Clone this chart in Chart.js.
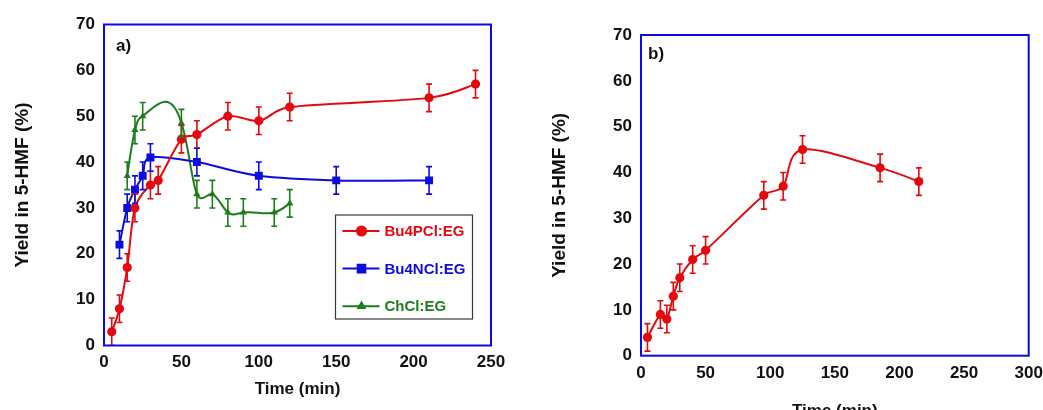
<!DOCTYPE html>
<html>
<head>
<meta charset="utf-8">
<script src="https://cdn.jsdelivr.net/npm/chart.js@4.4.0/dist/chart.umd.min.js"></script>
<style>
  html, body { margin: 0; padding: 0; background: #fff; overflow: hidden; }
  #wrap { position: relative; width: 1043px; height: 410px; overflow: hidden; }
  #c1 { position: absolute; left: 0; top: 0; }
  #c2 { position: absolute; left: 520px; top: 0; }
</style>
</head>
<body>
<div id="wrap">
  <canvas id="c1" width="520" height="410"></canvas>
  <canvas id="c2" width="545" height="430"></canvas>
</div>
<script>
// ---- Panel a): yield vs time for three DES systems ----
const timeBu4PCl  = [5, 10, 15, 20, 30, 35, 50, 60, 80, 100, 120, 210, 240];
const yieldBu4PCl = [3, 8, 17, 30, 35, 36, 45, 46, 50, 49, 52, 54, 57];
const errBu4PCl   = [3, 3, 3, 3, 3, 3, 3, 3, 3, 3, 3, 3, 3];

const timeBu4NCl  = [10, 15, 20, 25, 30, 60, 100, 150, 210];
const yieldBu4NCl = [22, 30, 34, 37, 41, 40, 37, 36, 36];
const errBu4NCl   = [3, 3, 3, 3, 3, 3, 3, 3, 3];

const timeChCl  = [15, 20, 25, 50, 60, 70, 80, 90, 110, 120];
const yieldChCl = [37, 47, 50, 48.5, 33, 33, 29, 29, 29, 31];
const errChCl   = [3, 3, 3, 3, 3, 3, 3, 3, 3, 3];

// ---- Panel b): single system ----
const timeB  = [5, 15, 20, 25, 30, 40, 50, 95, 110, 125, 185, 215];
const yieldB = [4, 9, 8, 13, 17, 21, 23, 35, 37, 45, 41, 38];
const errB   = [3, 3, 3, 3, 3, 3, 3, 3, 3, 3, 3, 3];

// ---- Axis ticks ----
const xTicksA = [0, 50, 100, 150, 200, 250];
const xTicksB = [0, 50, 100, 150, 200, 250, 300];
const yTicks  = [0, 10, 20, 30, 40, 50, 60, 70];

const seriesNames = ['Bu4PCl:EG', 'Bu4NCl:EG', 'ChCl:EG'];

const RED = '#e4080f';
const BLUE = '#0c0cdc';
const GREEN = '#1c7d1c';
const FRAME = '#0a0ae8';
const FONT = "'Liberation Sans', Arial, sans-serif";

const pts = (xs, ys) => xs.map((x, i) => ({ x: x, y: ys[i] }));

// Natural cubic spline slopes (dy/dx) through the given nodes
function splineSlopes(xs, ys) {
  const n = xs.length;
  const h = [], c = new Array(n).fill(0), mu = new Array(n).fill(0), z = new Array(n).fill(0);
  for (let i = 0; i < n - 1; i++) h[i] = xs[i + 1] - xs[i];
  for (let i = 1; i < n - 1; i++) {
    const alpha = 3 / h[i] * (ys[i + 1] - ys[i]) - 3 / h[i - 1] * (ys[i] - ys[i - 1]);
    const l = 2 * (xs[i + 1] - xs[i - 1]) - h[i - 1] * mu[i - 1];
    mu[i] = h[i] / l;
    z[i] = (alpha - h[i - 1] * z[i - 1]) / l;
  }
  const b = new Array(n).fill(0);
  for (let j = n - 2; j >= 0; j--) {
    c[j] = z[j] - mu[j] * c[j + 1];
    b[j] = (ys[j + 1] - ys[j]) / h[j] - h[j] * (c[j + 1] + 2 * c[j]) / 3;
  }
  const k = n - 2;
  const d = (c[k + 1] - c[k]) / (3 * h[k]);
  b[n - 1] = b[k] + 2 * c[k] * h[k] + 3 * d * h[k] * h[k];
  return b;
}

// Spreadsheet-style smoothing: Bezier handles from neighbouring points (1/6 rule, limited on short segments)
function spreadsheetHandles(P) {
  const n = P.length, out = P.map(() => ({}));
  const dist = (a, b) => Math.hypot(a.x - b.x, a.y - b.y);
  for (let i = 0; i < n - 1; i++) {
    const p0 = P[i - 1] || P[i], p1 = P[i], p2 = P[i + 1], p3 = P[i + 2] || P[i + 1];
    const d02 = dist(p0, p2), d12 = dist(p1, p2), d13 = dist(p1, p3);
    let f = 1 / 6, g = 1 / 6;
    if (d02 / 6 >= d12 / 2 && d02 > 0) f = d12 / d02 / 2;
    if (d13 / 6 >= d12 / 2 && d13 > 0) g = d12 / d13 / 2;
    out[i].cp2x = p1.x + f * (p2.x - p0.x); out[i].cp2y = p1.y + f * (p2.y - p0.y);
    out[i + 1].cp1x = p2.x - g * (p3.x - p1.x); out[i + 1].cp1y = p2.y - g * (p3.y - p1.y);
  }
  return out;
}

// Set the Bezier control points used by each smoothed line
const smoothPlugin = {
  id: 'smoothCurve',
  beforeDatasetDraw(chart, args) {
    const meta = args.meta;
    const els = meta.data;
    const ds = chart.data.datasets[args.index];
    if (!meta.dataset || els.length < 3) return;
    const P = els.map(p => ({ x: p.x, y: p.y }));
    const xs = P.map(p => p.x), ys = P.map(p => p.y);
    const s = splineSlopes(xs, ys);
    const e = spreadsheetHandles(P);
    const w = ds.splineWeight || 0;
    els.forEach((p, i) => {
      const hPrev = i > 0 ? xs[i] - xs[i - 1] : 0;
      const hNext = i < els.length - 1 ? xs[i + 1] - xs[i] : 0;
      const s1x = xs[i] - hPrev / 3, s1y = ys[i] - s[i] * hPrev / 3;
      const s2x = xs[i] + hNext / 3, s2y = ys[i] + s[i] * hNext / 3;
      const e1x = e[i].cp1x !== undefined ? e[i].cp1x : xs[i];
      const e1y = e[i].cp1y !== undefined ? e[i].cp1y : ys[i];
      const e2x = e[i].cp2x !== undefined ? e[i].cp2x : xs[i];
      const e2y = e[i].cp2y !== undefined ? e[i].cp2y : ys[i];
      p.cp1x = w * s1x + (1 - w) * e1x; p.cp1y = w * s1y + (1 - w) * e1y;
      p.cp2x = w * s2x + (1 - w) * e2x; p.cp2y = w * s2y + (1 - w) * e2y;
    });
    meta.dataset._pointsUpdated = true;
  }
};

// Vertical error bars with caps, placed through the chart scales
const errorBarPlugin = {
  id: 'errorBars',
  afterDatasetsDraw(chart) {
    const { ctx, chartArea, scales: { x, y } } = chart;
    ctx.save();
    ctx.beginPath();
    ctx.rect(chartArea.left, chartArea.top, chartArea.right - chartArea.left, chartArea.bottom - chartArea.top);
    ctx.clip();
    chart.data.datasets.forEach((ds) => {
      if (!ds.errors) return;
      ctx.strokeStyle = ds.borderColor;
      ctx.lineWidth = 1.6;
      ds.data.forEach((p, j) => {
        const e = ds.errors[j];
        const px = x.getPixelForValue(p.x);
        const yt = y.getPixelForValue(p.y + e);
        const yb = y.getPixelForValue(p.y - e);
        const cap = 3;
        ctx.beginPath();
        ctx.moveTo(px, yt); ctx.lineTo(px, yb);
        ctx.moveTo(px - cap, yt); ctx.lineTo(px + cap, yt);
        ctx.moveTo(px - cap, yb); ctx.lineTo(px + cap, yb);
        ctx.stroke();
      });
    });
    ctx.restore();
  }
};

// Blue frame round the plot area and the panel tag
const framePlugin = {
  id: 'frame',
  afterDraw(chart, args, opts) {
    const { ctx, chartArea: a } = chart;
    ctx.save();
    ctx.strokeStyle = FRAME;
    ctx.lineWidth = 2;
    ctx.strokeRect(a.left, a.top, a.right - a.left, a.bottom - a.top);
    ctx.fillStyle = '#111';
    ctx.font = 'bold 17px ' + FONT;
    ctx.textBaseline = 'alphabetic';
    ctx.textAlign = 'left';
    ctx.fillText(opts.text, a.left + opts.dx, a.top + opts.dy);
    ctx.restore();
  }
};

// Boxed legend inside panel a)
const boxLegendPlugin = {
  id: 'boxLegend',
  afterDraw(chart, args, opts) {
    if (!opts.show) return;
    const { ctx, chartArea: a } = chart;
    const bx = a.left + 231.5, by = a.top + 190.5, bw = 137, bh = 104;
    ctx.save();
    ctx.fillStyle = '#fff';
    ctx.fillRect(bx, by, bw, bh);
    ctx.strokeStyle = '#3a3a3a';
    ctx.lineWidth = 1.2;
    ctx.strokeRect(bx, by, bw, bh);
    chart.data.datasets.forEach((ds, i) => {
      const cy = by + 16 + i * 37.6;
      ctx.strokeStyle = ds.borderColor;
      ctx.lineWidth = 2;
      ctx.beginPath();
      ctx.moveTo(bx + 7, cy); ctx.lineTo(bx + 44, cy);
      ctx.stroke();
      ctx.fillStyle = ds.borderColor;
      Chart.helpers.drawPoint(ctx, {
        pointStyle: ds.pointStyle,
        radius: ds.legendRadius,
        rotation: 0,
        borderWidth: 1
      }, bx + 26, cy);
      ctx.fill();
      ctx.fillStyle = ds.borderColor;
      ctx.font = 'bold 15px ' + FONT;
      ctx.textBaseline = 'middle';
      ctx.textAlign = 'left';
      ctx.fillText(ds.label, bx + 49, cy + 1);
    });
    ctx.restore();
  }
};

function scalesFor(xMax, xTicks, yWidth, xHeight, yTitlePad, xTitlePad, xTickPad) {
  return {
    x: {
      type: 'linear', min: 0, max: xMax,
      afterBuildTicks: (s) => { s.ticks = xTicks.map(v => ({ value: v })); },
      afterFit: (s) => { s.height = xHeight; },
      grid: { display: false, drawTicks: false },
      border: { display: false },
      ticks: { color: '#111', font: { family: FONT, size: 17, weight: 'bold' }, padding: xTickPad, maxRotation: 0, autoSkip: false },
      title: { display: true, text: 'Time (min)', color: '#111', font: { family: FONT, size: 17, weight: 'bold' }, padding: { top: 0, bottom: xTitlePad } }
    },
    y: {
      type: 'linear', min: 0, max: 70,
      afterBuildTicks: (s) => { s.ticks = yTicks.map(v => ({ value: v })); },
      afterFit: (s) => { s.width = yWidth; },
      grid: { display: false, drawTicks: false },
      border: { display: false },
      ticks: { color: '#111', font: { family: FONT, size: 17, weight: 'bold' }, padding: 9 },
      title: { display: true, text: 'Yield in 5-HMF (%)', color: '#111', font: { family: FONT, size: 19, weight: 'bold' }, padding: { top: yTitlePad, bottom: 0 } }
    }
  };
}

const common = {
  responsive: false,
  animation: false,
  events: [],
  plugins: { legend: { display: false }, tooltip: { enabled: false } }
};

new Chart(document.getElementById('c1'), {
  type: 'line',
  data: {
    datasets: [
      { label: seriesNames[0], data: pts(timeBu4PCl, yieldBu4PCl), errors: errBu4PCl,
        borderColor: RED, backgroundColor: RED, borderWidth: 2, tension: 0.4, splineWeight: 0,
        pointStyle: 'circle', pointRadius: 4.6, legendRadius: 4.6, pointBorderWidth: 0 },
      { label: seriesNames[1], data: pts(timeBu4NCl, yieldBu4NCl), errors: errBu4NCl,
        borderColor: BLUE, backgroundColor: BLUE, borderWidth: 2, tension: 0.4, splineWeight: 0,
        pointStyle: 'rect', pointRadius: 5.6, legendRadius: 5.4, pointBorderWidth: 0 },
      { label: seriesNames[2], data: pts(timeChCl, yieldChCl), errors: errChCl,
        borderColor: GREEN, backgroundColor: GREEN, borderWidth: 2, tension: 0.4, splineWeight: 0.6,
        pointStyle: 'triangle', pointRadius: 4.2, legendRadius: 3.6, pointBorderWidth: 0 }
    ]
  },
  options: Object.assign({}, common, {
    layout: { padding: { left: 0, right: 29, top: 24.5, bottom: 0 } },
    scales: scalesFor(250, xTicksA, 104, 64.5, 11.5, 10, 6.5),
    plugins: Object.assign({}, common.plugins, {
      frame: { text: 'a)', dx: 12, dy: 26.5 },
      boxLegend: { show: true }
    })
  }),
  plugins: [smoothPlugin, errorBarPlugin, framePlugin, boxLegendPlugin]
});

new Chart(document.getElementById('c2'), {
  type: 'line',
  data: {
    datasets: [
      { label: seriesNames[0], data: pts(timeB, yieldB), errors: errB,
        borderColor: RED, backgroundColor: RED, borderWidth: 2, tension: 0.4, splineWeight: 0,
        pointStyle: 'circle', pointRadius: 4.6, pointBorderWidth: 0 }
    ]
  },
  options: Object.assign({}, common, {
    layout: { padding: { left: 0, right: 36.3, top: 35, bottom: 0 } },
    scales: scalesFor(300, xTicksB, 121, 74.3, 28.5, 8, 7),
    plugins: Object.assign({}, common.plugins, {
      frame: { text: 'b)', dx: 7, dy: 24 },
      boxLegend: { show: false }
    })
  }),
  plugins: [smoothPlugin, errorBarPlugin, framePlugin, boxLegendPlugin]
});
</script>
</body>
</html>
